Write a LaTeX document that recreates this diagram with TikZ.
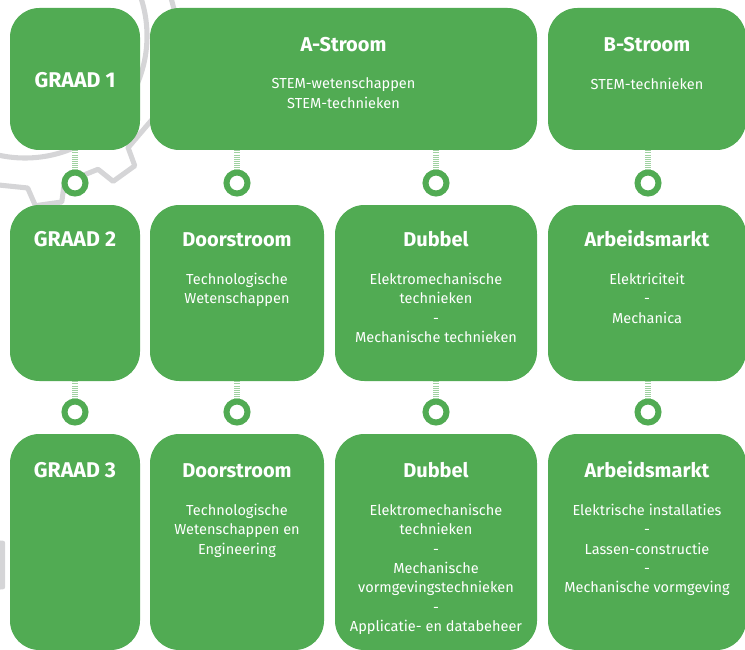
\documentclass[tikz,border=0pt]{standalone}
\usepackage{fontspec}
\setmainfont{Fira Sans}
\usetikzlibrary{positioning}
\definecolor{leafgreen}{HTML}{51AB53}
\definecolor{geargray}{HTML}{D5D5D7}
\tikzset{
  box/.style={fill=leafgreen, rounded corners=22pt, inner sep=0pt},
  title/.style={text=white, inner sep=0pt, anchor=base, font=\bfseries\fontsize{15}{17}\selectfont},
  grade/.style={title, font=\bfseries\fontsize{16}{18}\selectfont},
  body/.style={text=white, inner sep=0pt, align=center, font=\fontsize{10.9}{14.5}\selectfont},
  ring/.style={circle, draw=leafgreen, line width=4.5pt, fill=white, minimum size=15.75pt, inner sep=0pt},
  stem/.style={draw=leafgreen!55, line width=4pt, dash pattern=on 0.8pt off 0.8pt},
  gear/.style={draw=geargray, line width=3.8pt, line cap=round, line join=round}
}
\begin{document}
\begin{tikzpicture}[x=0.75pt, y=-0.75pt]
\useasboundingbox (0,0) rectangle (745,649);
% gears in the background
\begin{scope}
\clip (0,0) rectangle (745,649);
\draw [gear] (25,36) circle (122);
\foreach \k in {0,...,12} {
  \pgfmathsetmacro\a{82+\k*27.69}
  \draw [gear] ([shift={(25,36)}]\a-7:152) -- ([shift={(25,36)}]\a-4.5:170)
    -- ([shift={(25,36)}]\a+4.5:170) -- ([shift={(25,36)}]\a+7:152)
    -- ([shift={(25,36)}]\a+20.69:152);
}
\foreach \k in {0,...,9} {
  \pgfmathsetmacro\a{\k*36}
  \draw [gear] ([shift={(-100,565)}]\a-15:88) -- ([shift={(-100,565)}]\a-12:105)
    -- ([shift={(-100,565)}]\a+12:105) -- ([shift={(-100,565)}]\a+15:88)
    -- ([shift={(-100,565)}]\a+21:88);
}
\end{scope}

% row 1
\node [box, minimum width=97.5pt, minimum height=106.5pt] (g1) at (75,79) {};
\node [box, minimum width=290.25pt, minimum height=106.5pt] (aS) at (343.5,79) {};
\node [box, minimum width=148.5pt, minimum height=106.5pt] (bS) at (647,79) {};
\node [grade, anchor=center] (g1t) at ([yshift=-1.2pt]g1.center) {GRAAD 1};
\node [title] (aSt) at ([yshift=-32.8pt]aS.north) {A-Stroom};
\node [body, below=52.5pt of aS.north] (aSb) {STEM-wetenschappen\\STEM-technieken};
\node [title] (bSt) at ([yshift=-32.8pt]bS.north) {B-Stroom};
\node [body, below=52.5pt of bS.north] (bSb) {STEM-technieken};

% row 2
\node [box, minimum width=97.5pt, minimum height=132pt] (g2) at (75,293) {};
\node [box, minimum width=130.5pt, minimum height=132pt] (d2) at (237,293) {};
\node [box, minimum width=151.5pt, minimum height=132pt] (u2) at (436,293) {};
\node [box, minimum width=148.5pt, minimum height=132pt] (m2) at (647,293) {};
\node [grade] (g2t) at ([yshift=-31.5pt]g2.north) {GRAAD 2};
\node [title] (d2t) at ([yshift=-31.5pt]d2.north) {Doorstroom};
\node [body, below=51.2pt of d2.north] (d2b) {Technologische\\Wetenschappen};
\node [title] (u2t) at ([yshift=-31.5pt]u2.north) {Dubbel};
\node [body, below=51.2pt of u2.north] (u2b) {Elektromechanische\\technieken\\-\\Mechanische technieken};
\node [title] (m2t) at ([yshift=-31.5pt]m2.north) {Arbeidsmarkt};
\node [body, below=51.2pt of m2.north] (m2b) {Elektriciteit\\-\\Mechanica};

% row 3
\node [box, minimum width=97.5pt, minimum height=162pt] (g3) at (75,542) {};
\node [box, minimum width=130.5pt, minimum height=162pt] (d3) at (237,542) {};
\node [box, minimum width=151.5pt, minimum height=162pt] (u3) at (436,542) {};
\node [box, minimum width=148.5pt, minimum height=162pt] (m3) at (647,542) {};
\node [grade] (g3t) at ([yshift=-32.5pt]g3.north) {GRAAD 3};
\node [title] (d3t) at ([yshift=-32.5pt]d3.north) {Doorstroom};
\node [body, below=52.5pt of d3.north] (d3b) {Technologische\\Wetenschappen en\\Engineering};
\node [title] (u3t) at ([yshift=-32.5pt]u3.north) {Dubbel};
\node [body, below=52.5pt of u3.north] (u3b) {Elektromechanische\\technieken\\-\\Mechanische\\vormgevingstechnieken\\-\\Applicatie- en databeheer};
\node [title] (m3t) at ([yshift=-32.5pt]m3.north) {Arbeidsmarkt};
\node [body, below=52.5pt of m3.north] (m3b) {Elektrische installaties\\-\\Lassen-constructie\\-\\Mechanische vormgeving};

% links between the rows
\foreach \up/\lo/\x in {g1/g2/75, aS/d2/237, aS/u2/436, bS/m2/648} {
  \node [ring] (r\lo) at (\x,183) {};
  \draw [stem] (\up.south -| r\lo) -- (r\lo.north);
}
\foreach \up/\lo/\x in {g2/g3/75, d2/d3/237, u2/u3/436, m2/m3/648} {
  \node [ring] (r\lo) at (\x,412) {};
  \draw [stem] (\up.south -| r\lo) -- (r\lo.north);
}
\end{tikzpicture}
\end{document}
